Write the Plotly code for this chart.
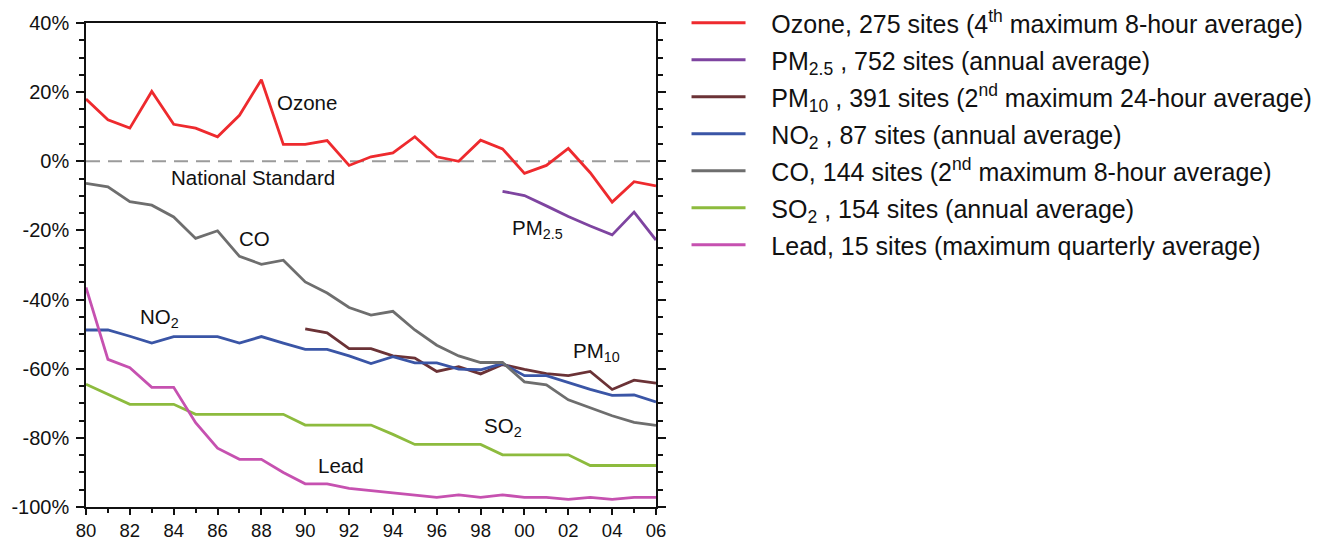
import plotly.graph_objects as go

years = list(range(1980, 2007))

ozone = [18, 12, 9.6, 20.2, 10.7, 9.6, 7.1, 13.3, 23.6, 4.9, 4.9, 6.0, -1.2, 1.3, 2.4,
         7.1, 1.3, 0, 6.1, 3.6, -3.5, -1.2, 3.7, -3.3, -11.8, -5.9, -7.1]
pm25_years = list(range(1999, 2007))
pm25 = [-8.7, -9.9, -12.9, -16.0, -18.7, -21.3, -14.7, -22.8]
pm10_years = list(range(1990, 2007))
pm10 = [-48.5, -49.6, -54.2, -54.2, -56.3, -56.9, -60.8, -59.4, -61.5, -58.8, -60.2,
        -61.4, -62.0, -60.8, -66.0, -63.3, -64.2]
no2 = [-48.8, -48.8, -50.6, -52.6, -50.7, -50.7, -50.7, -52.6, -50.7, -52.6, -54.4,
       -54.4, -56.3, -58.5, -56.5, -58.3, -58.3, -60.1, -60.3, -58.5, -62.0, -62.0,
       -64.0, -66.0, -67.7, -67.6, -69.6]
co = [-6.4, -7.4, -11.7, -12.7, -16.1, -22.3, -20.1, -27.5, -29.8, -28.6, -34.9, -38.1,
      -42.3, -44.5, -43.4, -48.8, -53.2, -56.3, -58.2, -58.2, -63.8, -64.7, -69.0,
      -71.3, -73.6, -75.5, -76.4]
so2 = [-64.5, -67.4, -70.3, -70.3, -70.3, -73.2, -73.2, -73.2, -73.2, -73.2, -76.3,
       -76.3, -76.3, -76.3, -79.0, -81.9, -81.9, -81.9, -81.9, -84.9, -84.9, -84.9,
       -84.9, -88.0, -88.0, -88.0, -88.0]
lead = [-36.5, -57.3, -59.7, -65.4, -65.4, -75.6, -83.0, -86.2, -86.2, -90.0, -93.3,
        -93.3, -94.6, -95.2, -95.9, -96.5, -97.2, -96.5, -97.2, -96.5, -97.2, -97.2,
        -97.8, -97.2, -97.8, -97.2, -97.2]

names = [
    "Ozone, 275 sites (4<sup>th</sup> maximum 8-hour average)",
    "PM<sub>2.5</sub> , 752 sites (annual average)",
    "PM<sub>10</sub> , 391 sites (2<sup>nd</sup> maximum 24-hour average)",
    "NO<sub>2</sub> , 87 sites (annual average)",
    "CO, 144 sites (2<sup>nd</sup> maximum 8-hour average)",
    "SO<sub>2</sub> , 154 sites (annual average)",
    "Lead, 15 sites (maximum quarterly average)",
]
colors = ["#ee2a2e", "#7e44a0", "#6b3236", "#3a55a6", "#6e6e6e", "#8dbb3e", "#c651b0"]

x_tickvals = list(range(1980, 2007, 2))
x_ticktext = ["80", "82", "84", "86", "88", "90", "92", "94", "96", "98", "00", "02", "04", "06"]
y_tickvals = [40, 20, 0, -20, -40, -60, -80, -100]
y_ticktext = ["40%", "20%", "0%", "-20%", "-40%", "-60%", "-80%", "-100%"]

labels = [
    ("Ozone", 1990.09, 17.1),
    ("National Standard", 1987.6, -4.8),
    ("CO", 1987.67, -22.4),
    ("PM<sub>2.5</sub>", 2000.6, -19.6),
    ("NO<sub>2</sub>", 1983.34, -45.2),
    ("PM<sub>10</sub>", 2003.27, -55.3),
    ("SO<sub>2</sub>", 1999.0, -77.0),
    ("Lead", 1991.64, -87.9),
]

series = [
    (years, ozone), (pm25_years, pm25), (pm10_years, pm10), (years, no2),
    (years, co), (years, so2), (years, lead),
]

NBSP = "\u00a0"

fig = go.Figure()

# National standard reference line
fig.add_trace(go.Scatter(x=[1980, 2006], y=[0, 0], mode="lines",
                         line=dict(color="#9b9b9b", width=2, dash="14px,8px"),
                         showlegend=False, hoverinfo="skip"))

for (xs, ys), nm, col in zip(series, names, colors):
    fig.add_trace(go.Scatter(x=xs, y=ys, mode="lines", name=NBSP * 3 + nm, legendgroup=nm,
                             line=dict(color=col, width=2.8)))

for txt, ax, ay in labels:
    fig.add_annotation(x=ax, y=ay, text=txt, showarrow=False,
                       font=dict(size=20.5, color="#111111"))

fig.update_layout(
    width=1321, height=540,
    margin=dict(l=86, r=665, t=23, b=33, autoexpand=False),
    paper_bgcolor="white", plot_bgcolor="white",
    font=dict(family="Liberation Sans, Arial, sans-serif", color="#111111"),
    showlegend=True,
    legend=dict(x=0.5197, y=1.0, xref="container", yref="container",
                xanchor="left", yanchor="top",
                font=dict(size=25, color="#111111"), maxheight=540,
                tracegroupgap=1.5, itemwidth=54, bgcolor="rgba(0,0,0,0)"),
    xaxis=dict(range=[1980, 2006], tickvals=x_tickvals, ticktext=x_ticktext,
               ticks="outside", ticklen=6, tickwidth=1.5, tickcolor="#111",
               showline=True, linecolor="#111", linewidth=1.5, mirror=True,
               showgrid=False, zeroline=False, tickfont=dict(size=18.5),
               automargin=False,
               minor=dict(dtick=1, ticks="outside", ticklen=4, tickwidth=1.5,
                          tickcolor="#111", showgrid=False)),
    yaxis=dict(range=[-100, 40], tickvals=y_tickvals, ticktext=y_ticktext,
               ticks="outside", ticklen=8, tickwidth=1.5, tickcolor="#111",
               showline=True, linecolor="#111", linewidth=1.5, mirror="ticks",
               showgrid=False, zeroline=False, tickfont=dict(size=20),
               automargin=False, ticklabelstandoff=3,
               minor=dict(tickvals=list(range(-100, 41, 5)), ticks="outside", ticklen=5,
                          tickwidth=1.5, tickcolor="#111", showgrid=False)),
)

fig.write_html("out.html")
